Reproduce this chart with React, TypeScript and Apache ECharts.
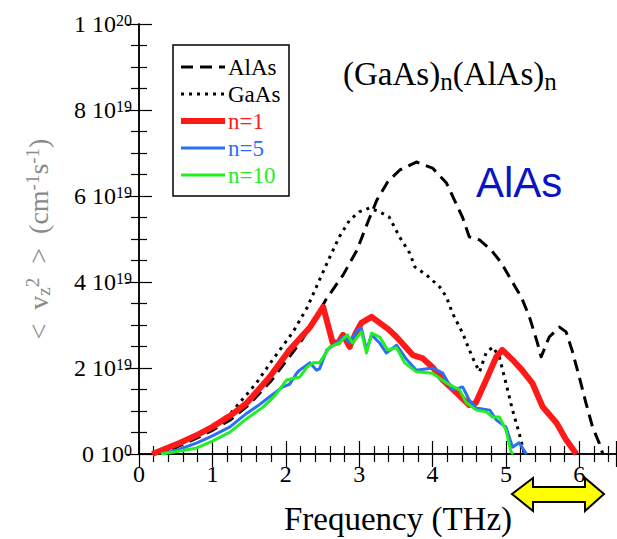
import React, { useEffect, useRef } from "react";
import * as echarts from "echarts";

// Frequency axis ticks (THz) and mean-square velocity axis (units of 1e19)
const xTicks = [0, 1, 2, 3, 4, 5, 6];
const yTicks = [0, 2, 4, 6, 8, 10];

const seriesNames = ["AlAs", "GaAs", "n=1", "n=5", "n=10"];
const seriesColors = ["#000000", "#000000", "#ff1a1a", "#2a6ff5", "#22ee22"];

// Bulk AlAs
const alasX = [0.2, 0.5, 0.8, 1.0, 1.25, 1.5, 1.8, 2.0, 2.2, 2.35, 2.55, 2.78, 2.97, 3.12, 3.24, 3.39, 3.55, 3.78, 4.0, 4.19, 4.3, 4.41, 4.5, 4.64, 4.8, 4.94, 5.07, 5.21, 5.32, 5.43, 5.48, 5.59, 5.73, 5.82, 5.9, 6.0, 6.09, 6.18, 6.27, 6.32];
const alasY = [0, 0.15, 0.38, 0.55, 0.8, 1.15, 1.7, 2.15, 2.6, 3.0, 3.6, 4.16, 4.74, 5.4, 5.9, 6.33, 6.6, 6.79, 6.65, 6.3, 5.9, 5.5, 5.05, 4.98, 4.74, 4.44, 4.05, 3.65, 3.19, 2.58, 2.26, 2.72, 2.95, 2.84, 2.42, 1.79, 1.19, 0.63, 0.26, 0];

// Bulk GaAs
const gaasX = [0.2, 0.5, 0.8, 1.0, 1.25, 1.6, 1.82, 2.1, 2.29, 2.46, 2.6, 2.73, 2.87, 3.0, 3.14, 3.28, 3.41, 3.55, 3.69, 3.76, 3.92, 4.1, 4.19, 4.27, 4.41, 4.54, 4.64, 4.73, 4.82, 4.91, 5.0, 5.09, 5.18, 5.25];
const gaasY = [0, 0.2, 0.45, 0.62, 0.95, 1.65, 2.19, 2.84, 3.4, 4.05, 4.58, 5.05, 5.44, 5.63, 5.72, 5.63, 5.51, 5.05, 4.67, 4.35, 4.16, 3.88, 3.65, 3.28, 2.81, 2.26, 1.91, 2.35, 2.49, 2.26, 1.65, 1.02, 0.49, 0];

// (GaAs)1(AlAs)1
const n1X = [0.18, 0.3, 0.56, 0.8, 1.0, 1.25, 1.47, 1.78, 2.05, 2.33, 2.51, 2.64, 2.72, 2.78, 2.87, 2.95, 3.03, 3.17, 3.28, 3.4, 3.51, 3.73, 3.86, 4.0, 4.14, 4.33, 4.5, 4.59, 4.73, 4.87, 4.95, 5.09, 5.22, 5.36, 5.5, 5.69, 5.82, 5.96];
const n1Y = [0, 0.08, 0.26, 0.45, 0.63, 0.9, 1.19, 1.79, 2.42, 2.95, 3.42, 2.58, 2.6, 2.77, 2.49, 2.8, 3.05, 3.19, 3.05, 2.9, 2.72, 2.3, 2.23, 2.02, 1.72, 1.42, 1.14, 1.19, 1.72, 2.26, 2.42, 2.19, 1.95, 1.65, 1.1, 0.72, 0.33, 0];

// (GaAs)5(AlAs)5
const n5X = [0.3, 0.5, 0.79, 1.0, 1.24, 1.47, 1.62, 1.78, 1.96, 2.05, 2.15, 2.19, 2.33, 2.42, 2.46, 2.56, 2.69, 2.78, 2.87, 2.98, 3.03, 3.1, 3.17, 3.28, 3.37, 3.51, 3.65, 3.78, 4.0, 4.14, 4.27, 4.41, 4.5, 4.59, 4.78, 4.87, 5.0, 5.09, 5.18, 5.28];
const n5Y = [0, 0.08, 0.26, 0.42, 0.63, 0.95, 1.12, 1.33, 1.56, 1.62, 1.88, 1.95, 2.12, 1.95, 1.98, 2.42, 2.58, 2.72, 2.6, 2.88, 2.93, 2.42, 2.77, 2.58, 2.35, 2.53, 2.19, 1.95, 2.0, 1.88, 1.49, 1.56, 1.26, 1.07, 1.02, 0.79, 0.63, 0.16, 0.26, 0];

// (GaAs)10(AlAs)10
const n10X = [0.3, 0.5, 0.79, 1.0, 1.24, 1.45, 1.69, 1.85, 2.01, 2.19, 2.29, 2.37, 2.46, 2.6, 2.73, 2.84, 2.91, 3.03, 3.1, 3.17, 3.28, 3.39, 3.51, 3.62, 3.78, 4.0, 4.19, 4.37, 4.46, 4.6, 4.73, 4.82, 4.91, 5.0, 5.07, 5.1];
const n10Y = [0, 0.05, 0.14, 0.3, 0.51, 0.8, 1.09, 1.35, 1.72, 1.79, 2.02, 2.12, 2.12, 2.49, 2.58, 2.77, 2.58, 2.84, 2.35, 2.81, 2.72, 2.42, 2.47, 2.12, 1.91, 1.88, 1.65, 1.49, 1.19, 1.02, 0.98, 0.86, 0.86, 0.56, 0.05, 0];

const seriesX = [alasX, gaasX, n1X, n5X, n10X];
const seriesY = [alasY, gaasY, n1Y, n5Y, n10Y];

const serif = "Liberation Serif";
const sans = "Liberation Sans";

const lineStyles = [
  { width: 3, type: [12, 7] as any },
  { width: 3, type: [3, 5] as any },
  { width: 6, type: "solid" as any },
  { width: 3, type: "solid" as any },
  { width: 3, type: "solid" as any },
];

function yLabel(v: number): string {
  if (v === 0) return "{a|0 10}{s|0}";
  if (v === 10) return "{a|1 10}{s|20}";
  return `{a|${v} 10}{s|19}`;
}

export default function App() {
  const ref = useRef<HTMLDivElement>(null);

  useEffect(() => {
    if (!ref.current) return;
    const chart = echarts.init(ref.current, undefined, { renderer: "svg" });

    const axisLine = { show: true, lineStyle: { color: "#000", width: 1.5 } };
    const xCommon = {
      type: "value" as const,
      min: 0,
      max: 6.5,
      interval: 1,
      axisLine,
      axisTick: { show: true, inside: true, length: 13, lineStyle: { color: "#000", width: 1.2 } },
      minorTick: { show: true, splitNumber: 5, length: 8, lineStyle: { color: "#000", width: 1.2 } },
      splitLine: { show: false },
      minorSplitLine: { show: false },
    };
    const yCommon = {
      type: "value" as const,
      min: 0,
      max: 10,
      interval: 2,
      axisLine,
      axisTick: { show: true, inside: true, length: 13, lineStyle: { color: "#000", width: 1.2 } },
      minorTick: { show: true, splitNumber: 4, length: 8, lineStyle: { color: "#000", width: 1.2 } },
      splitLine: { show: false },
      minorSplitLine: { show: false },
    };

    // Legend drawn as a framed box with line samples
    const legendTop = 67;
    const legendStep = 27;
    const legendItems: any[] = [
      {
        type: "rect",
        shape: { x: 173, y: 45, width: 116, height: 151 },
        style: { fill: "#fff", stroke: "#000", lineWidth: 1.5 },
        z: 10,
      },
    ];
    seriesNames.forEach((name, i) => {
      const y = legendTop + i * legendStep;
      legendItems.push({
        type: "line",
        shape: { x1: 181, y1: y, x2: 225, y2: y },
        style: {
          stroke: seriesColors[i],
          lineWidth: lineStyles[i].width,
          lineDash: Array.isArray(lineStyles[i].type) ? lineStyles[i].type : null,
        },
        z: 11,
      });
      legendItems.push({
        type: "text",
        x: 228,
        y,
        style: {
          text: name,
          fill: seriesColors[i],
          fontFamily: serif,
          fontSize: 23,
          verticalAlign: "middle",
        },
        z: 11,
      });
    });

    chart.setOption({
      animation: false,
      backgroundColor: "#fff",
      textStyle: { fontFamily: serif },
      grid: { left: 139, top: 24, right: 1, bottom: 85, containLabel: false },
      xAxis: [
        {
          ...xCommon,
          position: "bottom",
          axisLabel: {
            show: true,
            margin: 8,
            color: "#000",
            fontFamily: serif,
            fontSize: 24,
            showMaxLabel: false,
            formatter: (v: number) => (xTicks.includes(v) ? String(v) : ""),
          },
        },
        { ...xCommon, position: "top", axisLabel: { show: false } },
      ],
      yAxis: [
        {
          ...yCommon,
          position: "left",
          axisLabel: {
            show: true,
            margin: 7,
            color: "#000",
            fontFamily: serif,
            formatter: (v: number) => (yTicks.includes(v) ? yLabel(v) : ""),
            rich: {
              a: { fontFamily: serif, fontSize: 24, lineHeight: 24, verticalAlign: "bottom", color: "#000" },
              s: { fontFamily: serif, fontSize: 16, lineHeight: 16, verticalAlign: "top", padding: [0, 0, 12, 0], color: "#000" },
            },
          },
        },
        { ...yCommon, position: "right", axisLabel: { show: false } },
      ],
      series: seriesNames.map((name, i) => ({
        name,
        type: "line",
        xAxisIndex: 0,
        yAxisIndex: 0,
        showSymbol: false,
        symbol: "none",
        smooth: false,
        clip: true,
        data: seriesX[i].map((x, k) => [x, seriesY[i][k]]),
        lineStyle: { color: seriesColors[i], width: lineStyles[i].width, type: lineStyles[i].type, cap: "butt", join: "round" },
        z: 2 + i,
      })),
      graphic: [
        ...legendItems,
        // superlattice label
        {
          type: "text",
          x: 343,
          y: 57,
          style: {
            text: "{m|(GaAs)}{sub|n}{m|(AlAs)}{sub|n}",
            fontFamily: serif,
            verticalAlign: "top",
            rich: {
              m: { fontFamily: serif, fontSize: 33, lineHeight: 37, verticalAlign: "top", fill: "#000" },
              sub: { fontFamily: serif, fontSize: 25, lineHeight: 25, verticalAlign: "bottom", padding: [27, 0, 0, 0], fill: "#000" },
            },
          },
          z: 20,
        },
        {
          type: "text",
          x: 476,
          y: 182,
          style: {
            text: "AlAs",
            fill: "#0b14c4",
            fontFamily: sans,
            fontSize: 42,
            verticalAlign: "middle",
          },
          z: 20,
        },
        // y-axis title
        {
          type: "text",
          x: 38,
          y: 239,
          rotation: Math.PI / 2,
          style: {
            text: "{m|<  v}{sub|z}{sup|2}{m|  >  (cm}{sup|-1}{m|s}{sup|-1}{m|)}",
            fontFamily: serif,
            align: "center",
            verticalAlign: "middle",
            rich: {
              m: { fontFamily: serif, fontSize: 28, lineHeight: 30, verticalAlign: "middle", fill: "#8a8a8a" },
              sup: { fontFamily: serif, fontSize: 19, lineHeight: 19, verticalAlign: "top", fill: "#8a8a8a" },
              sub: { fontFamily: serif, fontSize: 19, lineHeight: 19, verticalAlign: "bottom", fill: "#8a8a8a" },
            },
          },
          z: 20,
        },
        // x-axis title
        {
          type: "text",
          x: 398,
          y: 519,
          style: {
            text: "Frequency (THz)",
            fill: "#000",
            fontFamily: serif,
            fontSize: 33,
            align: "center",
            verticalAlign: "middle",
          },
          z: 20,
        },
        // double-headed arrow below the high-frequency end of the axis
        {
          type: "polygon",
          shape: {
            points: [
              [512, 494], [533, 478], [533, 487], [585, 487], [585, 478],
              [604, 494], [585, 511], [585, 502], [533, 502], [533, 511],
            ],
          },
          style: { fill: "#ffff00", stroke: "#000", lineWidth: 2, lineJoin: "miter" },
          z: 20,
        },
      ],
    });

    return () => chart.dispose();
  }, []);

  return (
    <div
      ref={ref}
      style={{ position: "fixed", left: 0, top: 0, width: 617, height: 539 }}
    />
  );
}
